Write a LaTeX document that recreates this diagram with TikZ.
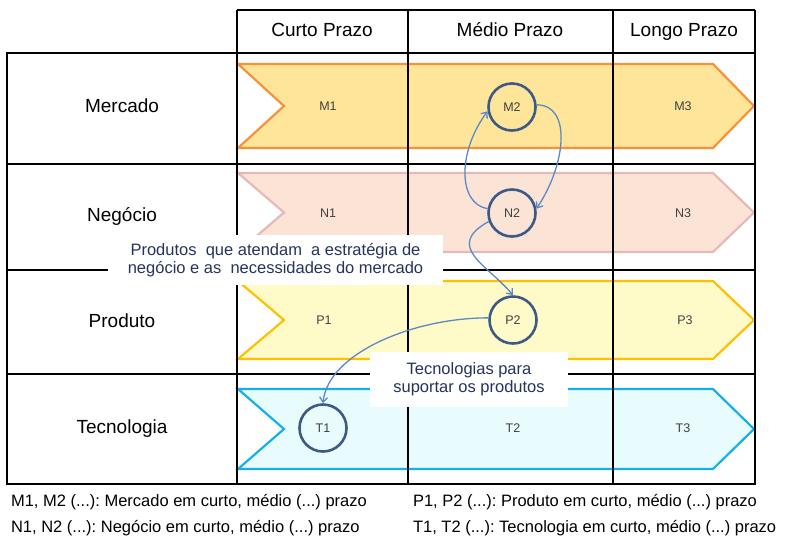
\documentclass[tikz,border=0pt]{standalone}
\usepackage{fontspec}
\setmainfont{Liberation Sans}
\frenchspacing
\usetikzlibrary{calc}
\usetikzlibrary{arrows,arrows.meta}
\tikzset{>={Straight Barb[length=5pt,width=8pt]}}
\definecolor{Mfill}{HTML}{FFE59A}
\definecolor{Mcol}{HTML}{F7923A}
\definecolor{Nfill}{HTML}{FBE4D5}
\definecolor{Ncol}{HTML}{E6B8B7}
\definecolor{Pfill}{HTML}{FFFBC9}
\definecolor{Pcol}{HTML}{FFC000}
\definecolor{Tfill}{HTML}{E8FCFD}
\definecolor{Tcol}{HTML}{16B0E8}
\definecolor{Ccol}{HTML}{3D5A86}
\definecolor{Acol}{HTML}{5B89C5}
\definecolor{Lcol}{HTML}{26335E}
\newcommand\chevron[4]{ % fill, border, y centre, half height
  \filldraw[fill=#1,draw=#2,line width=2.2]
    (\Xa,#3-#4) -- (\Xs,#3-#4) -- (\Xt,#3) -- (\Xs,#3+#4) -- (\Xa,#3+#4) -- (\Xn,#3) -- cycle;
}

\begin{document}
\begin{tikzpicture}[x=1pt,y=-1pt,
    grid/.style={line width=1.3},
    head/.style={font=\fontsize{19}{22}\selectfont,text height=13.5,text depth=4},
    cell/.style={font=\fontsize{12.5}{14}\selectfont,text=black!75},
    circ/.style={cell,circle,draw=Ccol,line width=2.6,minimum size=47,inner sep=0pt},
    conn/.style={->,draw=Acol,line width=1.3},
    note/.style={fill=white,align=center,text=Lcol,inner sep=2,font=\fontsize{16.5}{18}\selectfont},
    legend/.style={anchor=west,font=\fontsize{16.5}{19}\selectfont}]
  \def\Xa{238} % left end of the bands
  \def\Xn{284} % notch
  \def\Xs{713} % shoulder
  \def\Xt{754} % tip
  \useasboundingbox (0,0) rectangle (789,539);

  % bands
  \chevron{Mfill}{Mcol}{106}{42}
  \chevron{Nfill}{Ncol}{212.5}{39.5}
  \chevron{Pfill}{Pcol}{320}{39}
  \chevron{Tfill}{Tcol}{429}{40}

  % table
  \draw[grid] (237,10) -- (755,10);
  \draw[grid] (7,53) rectangle (755,484);
  \foreach \x in {237,408,613,755}
    \draw[grid] (\x,10) -- (\x,484);
  \foreach \y in {164,270,374}
    \draw[grid] (7,\y) -- (755,\y);

  \foreach \nm/\txt/\x in {curto/Curto Prazo/322,medio/Médio Prazo/510,longo/Longo Prazo/684}
    \node[head] (\nm) at (\x,32) {\txt};
  \foreach \nm/\txt/\y in {mercado/Mercado/108,negocio/Negócio/217,produto/Produto/323,tecnologia/Tecnologia/429}
    \node[head] (\nm) at (122,\y) {\txt};

  % cells
  \foreach \nm/\x/\y in {M1/328/106,M3/683/106,N1/328/213,N3/683/213,P1/324/320,P3/685/320,T2/513/428,T3/683/428}
    \node[cell] (\nm) at (\x,\y) {\nm};
  \foreach \nm/\x/\y in {M2/512/107,N2/512/213,P2/513/320,T1/323/428}
    \node[circ] (\nm) at (\x,\y) {\nm};

  \draw[conn] (M2.5) .. controls +(35,0) and +(30,-45) .. (N2.10);
  \draw[conn] (N2.170) .. controls +(-30,-5) and +(-30,40) .. (M2.190);
  \draw[conn] (N2.200) .. controls +(-45,25) and +(-25,-30) .. (P2.north);
  \draw[conn] (P2.175) .. controls +(-75,0) and +(5,-50) .. (T1.north);

  \node[note,minimum width=335,minimum height=50] (prod) at (275.5,260)
    {Produtos\ \ que atendam\ \ a estratégia de\\negócio e as\ \ necessidades do mercado};
  \node[note,minimum width=198,minimum height=55] (tec) at (469,379.5)
    {Tecnologias para\\suportar os produtos};

  % legend
  \node[legend] (legM) at (7.5,502) {M1, M2 (...): Mercado em curto, médio (...) prazo};
  \node[legend] (legN) at (7.5,528) {N1, N2 (...): Negócio em curto, médio (...) prazo};
  \node[legend] (legP) at (409.5,502) {P1, P2 (...): Produto em curto, médio (...) prazo};
  \node[legend] (legT) at (409.5,528) {T1, T2 (...): Tecnologia em curto, médio (...) prazo};
\end{tikzpicture}
\end{document}
